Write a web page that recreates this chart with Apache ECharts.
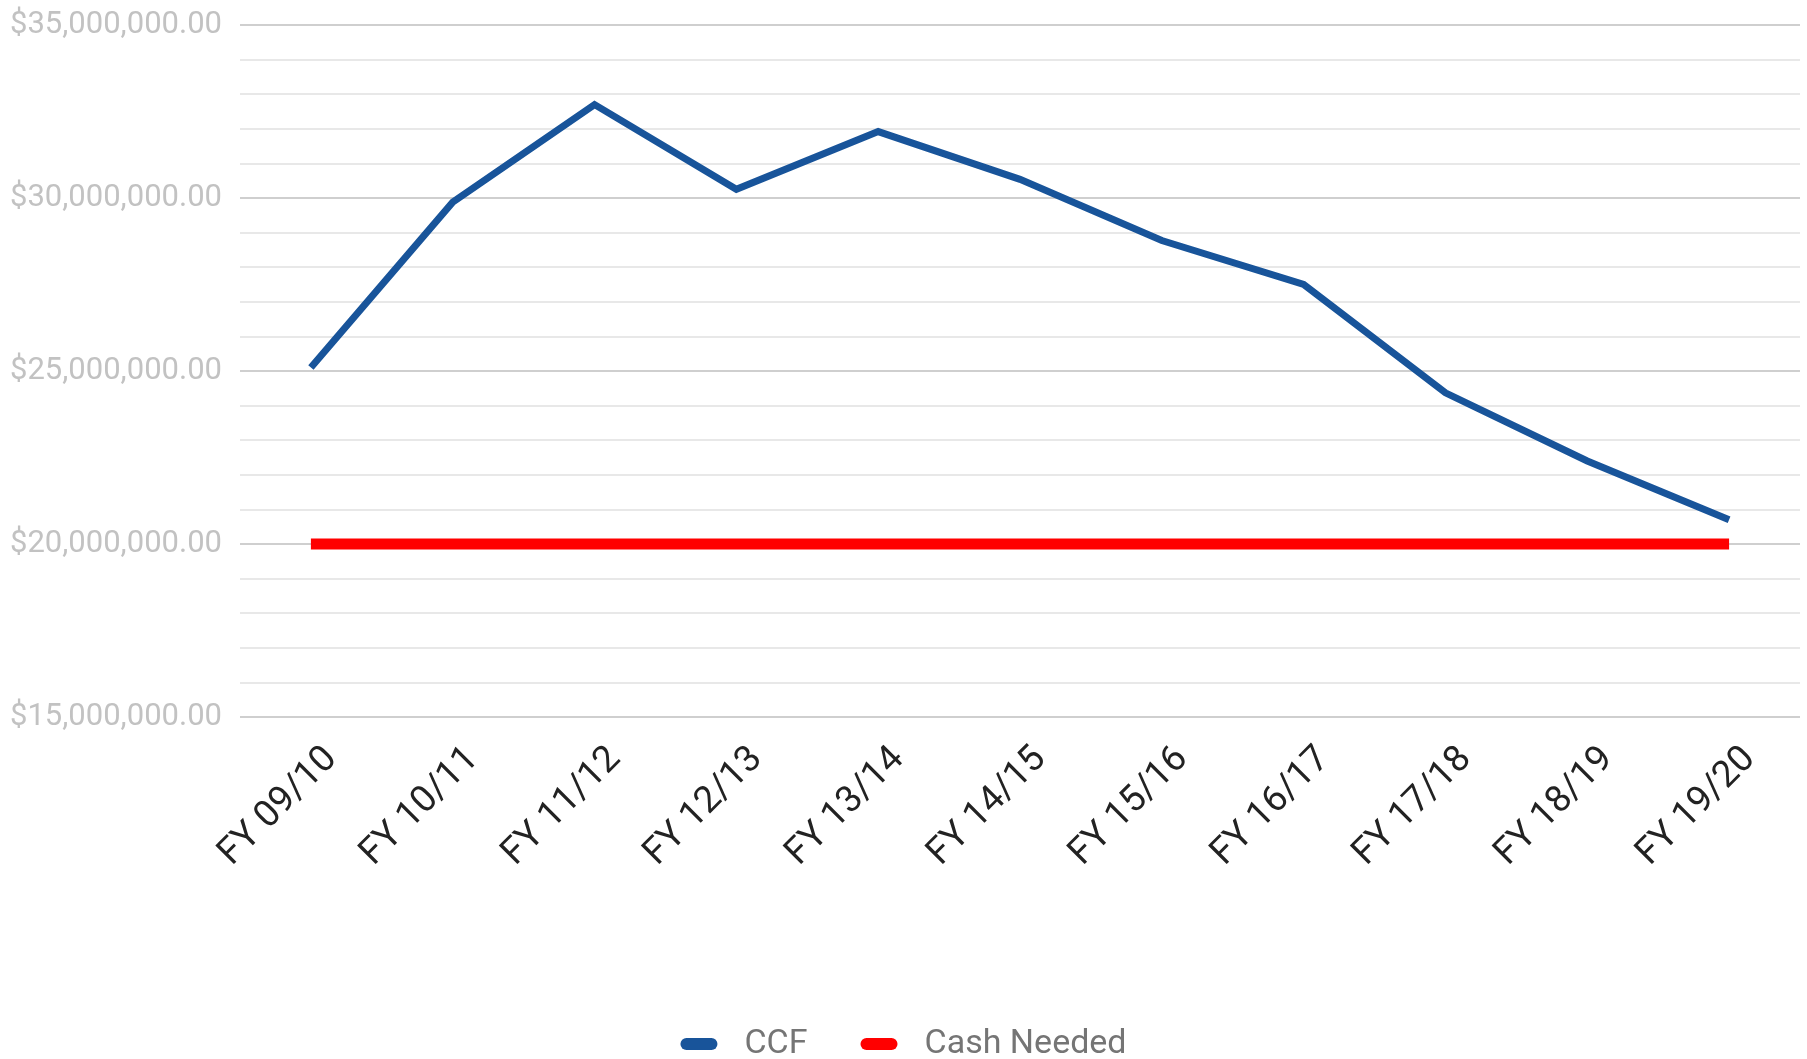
<!DOCTYPE html>
<html>
<head>
<meta charset="utf-8">
<script src="https://cdn.jsdelivr.net/npm/echarts@6/dist/echarts.min.js"></script>
<style>
html,body{margin:0;padding:0;background:#fff;}
#chart{width:1807px;height:1059px;}
</style>
</head>
<body>
<div id="chart"></div>
<script>
const categories = ["FY 09/10","FY 10/11","FY 11/12","FY 12/13","FY 13/14","FY 14/15","FY 15/16","FY 16/17","FY 17/18","FY 18/19","FY 19/20"];
const ccf = [25100000, 29880000, 32700000, 30250000, 31920000, 30540000, 28770000, 27500000, 24370000, 22400000, 20700000];
const cashNeeded = [20000000, 20000000, 20000000, 20000000, 20000000, 20000000, 20000000, 20000000, 20000000, 20000000, 20000000];
const seriesNames = ["CCF", "Cash Needed"];
const yMin = 15000000, yMax = 35000000, yStep = 5000000;

function money(v){
  return "$" + v.toLocaleString("en-US",{minimumFractionDigits:2, maximumFractionDigits:2});
}

const pill = 'path://M6,0 L31,0 A6,6 0 0 1 31,12 L6,12 A6,6 0 0 1 6,0 Z';

const chart = echarts.init(document.getElementById('chart'));
chart.setOption({
  animation:false,
  textStyle:{fontFamily:"Roboto"},
  grid:{left:240, right:7, top:25, bottom:342, containLabel:false},
  legend:{
    top:1022, left:'center',
    icon:pill, itemWidth:37, itemHeight:13, itemGap:53,
    textStyle:{fontFamily:"Roboto", fontSize:34, color:"#757575", padding:[0,0,0,22]},
    data:seriesNames
  },
  xAxis:{
    type:'category', data:categories, boundaryGap:true,
    axisLine:{show:false}, axisTick:{show:false},
    axisLabel:{rotate:45, fontSize:37, lineHeight:58, color:"#222", margin:16, verticalAlign:'top', fontFamily:"Roboto", interval:0}
  },
  yAxis:{
    type:'value', min:yMin, max:yMax, interval:yStep,
    axisLine:{show:false}, axisTick:{show:false},
    axisLabel:{formatter:money, fontSize:31, color:"#c2c2c2", margin:18, fontFamily:"Roboto"},
    splitLine:{show:true, lineStyle:{color:"#cfcfcf", width:2}},
    minorTick:{show:false, splitNumber:5},
    minorSplitLine:{show:true, lineStyle:{color:"#e8e8e8", width:2}}
  },
  series:[
    {name:seriesNames[0], type:'line', data:ccf, showSymbol:false, symbol:'none',
     lineStyle:{color:"#18549a", width:7, cap:'butt', join:'miter'}, itemStyle:{color:"#18549a"}, z:3},
    {name:seriesNames[1], type:'line', data:cashNeeded, showSymbol:false, symbol:'none',
     lineStyle:{color:"#ff0000", width:11, cap:'butt'}, itemStyle:{color:"#ff0000"}, z:2}
  ]
});
</script>
</body>
</html>
